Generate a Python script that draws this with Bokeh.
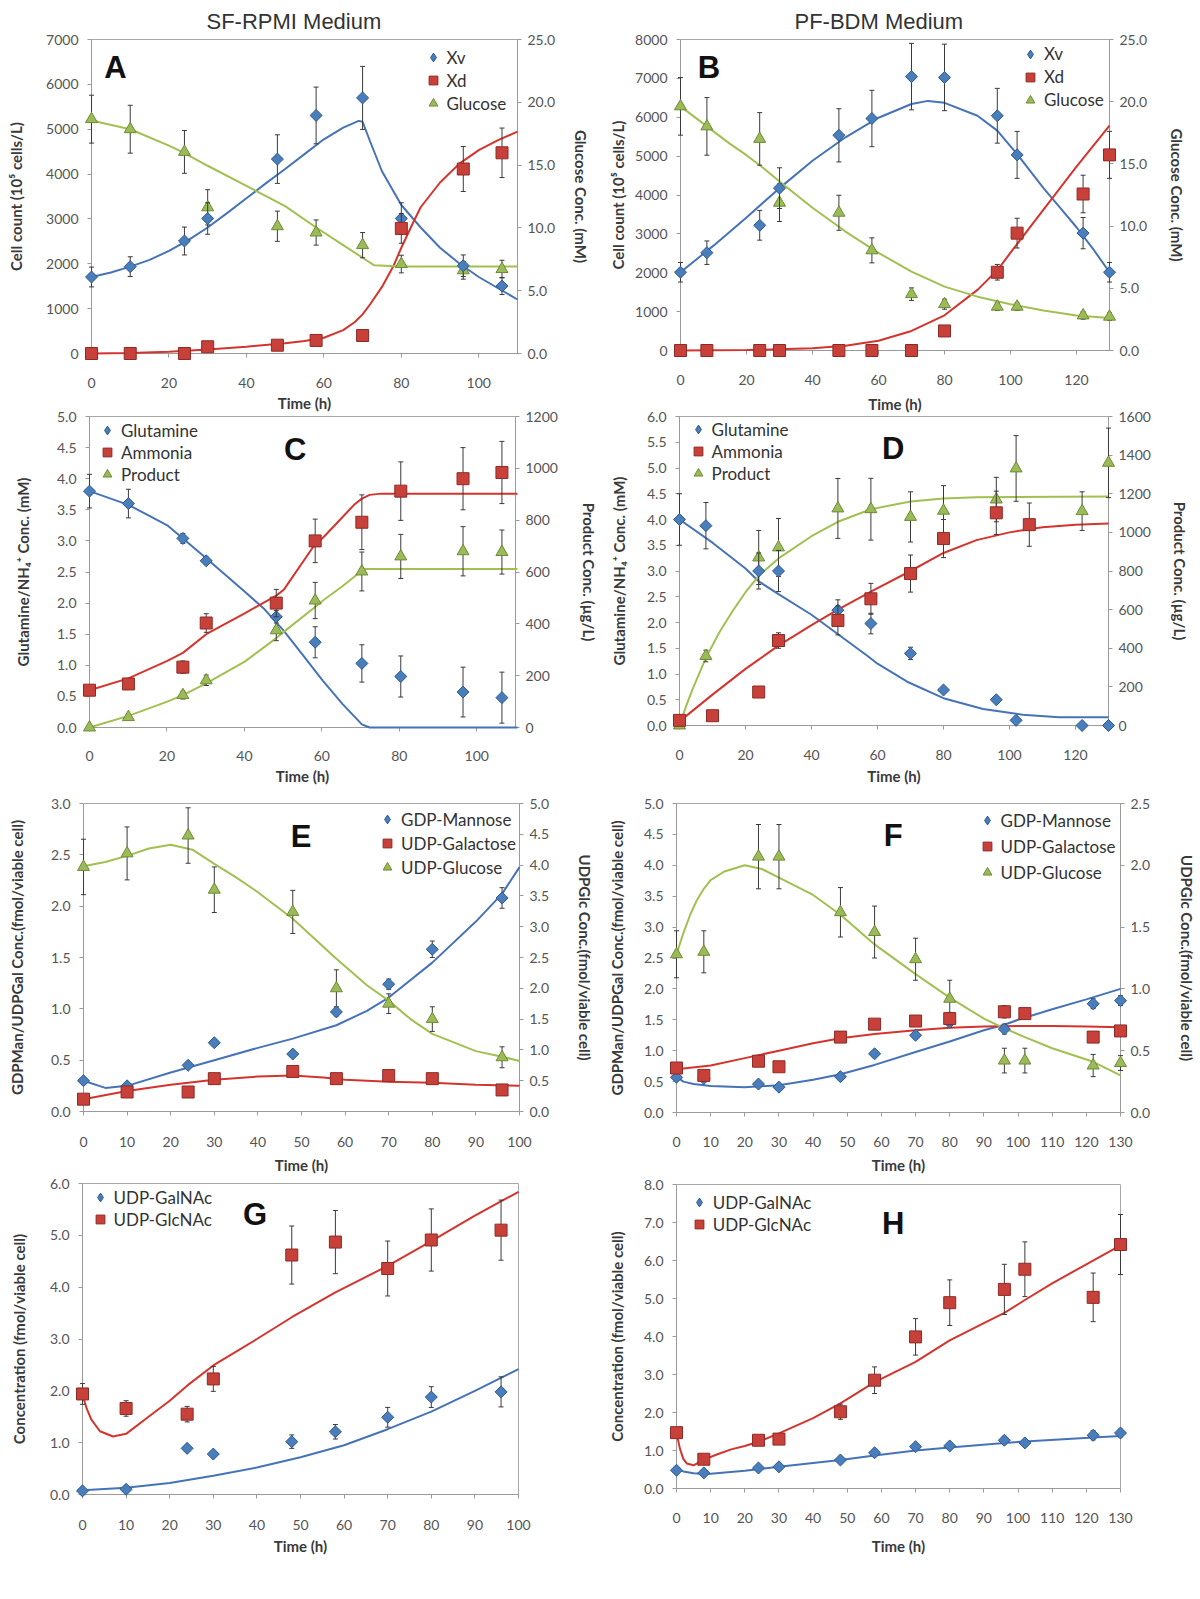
import numpy as np
from bokeh.plotting import figure
from bokeh.models import (Range1d, LinearAxis, FixedTicker, PrintfTickFormatter,
                          Label, Legend, LegendItem)
from bokeh.layouts import column, row
from bokeh.embed import file_html
from bokeh.resources import INLINE

# ======================= DATA =======================
# ---- Panel A : SF-RPMI, cell counts and glucose ----
A_t = [0, 10, 24, 30, 48, 58, 70, 80, 96, 106]
A_xv = [1700, 1930, 2500, 3000, 4320, 5290, 5680, 3000, 1950, 1500]
A_xv_err = [220, 220, 310, 350, 540, 630, 700, 350, 240, 190]
A_xd = [0, 0, 0, 150, 185, 290, 400, 2780, 4100, 4460]
A_xd_err = [0, 0, 0, 0, 0, 0, 0, 330, 500, 550]
A_glc = [18.6, 17.8, 16.0, 11.6, 10.1, 9.6, 8.6, 7.1, 6.6, 6.7]
A_glc_err = [1.9, 1.9, 1.7, 1.4, 1.2, 1.0, 1.0, 0.7, 0.7, 0.7]
A_fit_xv_t = [0, 5, 10, 15, 20, 25, 30, 35, 40, 45, 50, 55, 60, 65, 69, 70, 72, 75, 80, 85, 90, 95, 100, 105, 110]
A_fit_xv = [1700, 1800, 1930, 2080, 2280, 2520, 2800, 3120, 3450, 3780, 4100, 4430, 4760, 5020, 5170, 5150,
            4700, 4050, 3300, 2800, 2350, 2000, 1700, 1450, 1200]
A_fit_xd_t = [0, 10, 20, 30, 40, 50, 55, 60, 65, 68, 70, 72, 75, 78, 80, 83, 85, 90, 95, 100, 105, 110]
A_fit_xd = [0, 10, 40, 90, 150, 230, 280, 350, 520, 700, 870, 1100, 1480, 1950, 2350, 2900, 3250, 3800,
            4220, 4520, 4740, 4930]
A_fit_glc_t = [0, 10, 20, 24, 30, 40, 50, 58, 65, 70, 73, 80, 90, 100, 110]
A_fit_glc = [18.5, 17.8, 16.5, 15.9, 14.9, 13.3, 11.7, 10.0, 8.6, 7.6, 7.0, 6.9, 6.9, 6.9, 6.9]

# ---- Panel B : PF-BDM, cell counts and glucose ----
B_t = [0, 8, 24, 30, 48, 58, 70, 80, 96, 102, 122, 130]
B_xv = [2000, 2500, 3200, 4150, 5500, 5930, 7000, 6980, 6000, 5000, 3000, 2000]
B_xv_err = [250, 300, 380, 520, 680, 720, 850, 850, 700, 600, 400, 250]
B_xd = [0, 0, 0, 0, 0, 0, 0, 500, 2000, 3000, 4000, 5000]
B_xd_err = [0, 0, 0, 0, 0, 0, 0, 80, 200, 380, 480, 600]
B_glc = [19.5, 17.9, 16.9, 11.8, 11.0, 8.0, 4.5, 3.7, 3.5, 3.5, 2.8, 2.7]
B_glc_err = [2.3, 2.3, 2.1, 1.5, 1.4, 1.0, 0.5, 0.4, 0.3, 0.3, 0.3, 0.3]
B_fit_xv_t = [0, 10, 20, 30, 40, 50, 60, 70, 75, 80, 90, 96, 102, 110, 115, 120, 125, 130]
B_fit_xv = [2000, 2680, 3400, 4150, 4850, 5450, 5950, 6300, 6380, 6330, 6000, 5620, 5020, 4150, 3650, 3150, 2600, 2000]
B_fit_xd_t = [0, 20, 40, 50, 60, 70, 80, 90, 96, 100, 110, 120, 130]
B_fit_xd = [0, 10, 60, 120, 250, 500, 900, 1550, 2050, 2500, 3600, 4700, 5750]
B_fit_glc_t = [0, 5, 10, 15, 20, 25, 30, 40, 50, 60, 70, 80, 90, 100, 110, 120, 130]
B_fit_glc = [19.5, 18.5, 17.5, 16.5, 15.6, 14.6, 13.5, 11.4, 9.5, 7.8, 6.3, 5.1, 4.3, 3.7, 3.2, 2.8, 2.6]

# ---- Panel C : SF-RPMI, glutamine / ammonia / product ----
C_t = [0, 10, 24, 30, 48, 58, 70, 80, 96, 106]
C_gln = [3.8, 3.6, 3.04, 2.68, 1.78, 1.37, 1.03, 0.82, 0.57, 0.48]
C_gln_err = [0.27, 0.23, 0.08, 0.06, 0.1, 0.25, 0.3, 0.33, 0.4, 0.41]
C_amm = [0.6, 0.7, 0.97, 1.68, 2.0, 3.0, 3.3, 3.8, 4.0, 4.1]
C_amm_err = [0.03, 0.05, 0.1, 0.15, 0.22, 0.35, 0.44, 0.47, 0.5, 0.5]
C_prod = [0, 40, 125, 182, 375, 490, 602, 660, 680, 677]
C_prod_err = [0, 8, 15, 20, 40, 70, 75, 85, 95, 85]
C_fit_gln_t = [0, 10, 20, 30, 40, 45, 50, 55, 60, 65, 70, 72, 80, 90, 100, 110]
C_fit_gln = [3.8, 3.58, 3.25, 2.72, 2.18, 1.9, 1.55, 1.15, 0.75, 0.38, 0.05, 0.0, 0.0, 0.0, 0.0, 0.0]
C_fit_amm_t = [0, 10, 20, 24, 30, 40, 48, 50, 58, 60, 65, 68, 70, 72, 75, 80, 90, 100, 110]
C_fit_amm = [0.6, 0.79, 1.07, 1.2, 1.5, 1.84, 2.12, 2.22, 2.95, 3.05, 3.38, 3.58, 3.68, 3.74, 3.76, 3.76, 3.76, 3.76, 3.76]
C_fit_prod_t = [0, 10, 20, 24, 30, 40, 48, 50, 58, 60, 65, 70, 71, 80, 90, 100, 110]
C_fit_prod = [0, 45, 100, 125, 170, 255, 345, 370, 465, 490, 545, 605, 612, 612, 612, 612, 612]

# ---- Panel D : PF-BDM, glutamine / ammonia / product ----
D_t = [0, 8, 24, 30, 48, 58, 70, 80, 96, 102, 122, 130]
D_gln = [4.0, 3.88, 3.0, 3.0, 2.24, 1.98, 1.4, 0.69, 0.5, 0.1, 0.0, 0.0]
D_gln_err = [0.5, 0.45, 0.35, 0.4, 0.2, 0.2, 0.12, 0.05, 0.05, 0.03, 0, 0]
D_amm_t = [0, 10, 24, 30, 48, 58, 70, 80, 96, 106]
D_amm = [0.1, 0.19, 0.65, 1.65, 2.04, 2.46, 2.95, 3.63, 4.13, 3.9]
D_amm_err = [0.05, 0.05, 0.05, 0.15, 0.28, 0.3, 0.36, 0.37, 0.42, 0.42]
D_prod = [0, 360, 870, 922, 1124, 1120, 1080, 1112, 1170, 1331, 1110, 1360]
D_prod_err = [0, 30, 140, 150, 155, 160, 130, 130, 115, 170, 100, 180]
D_fit_gln_t = [0, 10, 20, 24, 30, 40, 50, 57, 60, 69, 80, 92, 104, 115, 130]
D_fit_gln = [4.0, 3.55, 3.05, 2.8, 2.55, 2.15, 1.68, 1.35, 1.2, 0.85, 0.53, 0.32, 0.21, 0.16, 0.16]
D_fit_amm_t = [0, 10, 20, 24, 30, 40, 48, 58, 70, 80, 90, 100, 110, 120, 130]
D_fit_amm = [0.08, 0.6, 1.1, 1.28, 1.55, 1.95, 2.25, 2.6, 3.0, 3.35, 3.6, 3.75, 3.85, 3.9, 3.92]
D_fit_prod_t = [0, 2, 4, 8, 12, 16, 20, 24, 30, 40, 48, 58, 70, 80, 90, 130]
D_fit_prod = [0, 100, 190, 350, 480, 590, 690, 775, 865, 980, 1055, 1120, 1160, 1175, 1182, 1186]

# ---- Panel E : SF-RPMI nucleotide sugars ----
E_t = [0, 10, 24, 30, 48, 58, 70, 80, 96]
E_man = [0.3, 0.25, 0.45, 0.67, 0.56, 0.97, 1.24, 1.58, 2.08]
E_man_err = [0.02, 0.02, 0.02, 0.03, 0.03, 0.04, 0.05, 0.08, 0.1]
E_gal = [0.12, 0.19, 0.19, 0.32, 0.39, 0.32, 0.35, 0.32, 0.21]
E_gal_err = [0.02, 0.02, 0.03, 0.03, 0.03, 0.02, 0.02, 0.02, 0.02]
E_glc = [3.97, 4.19, 4.48, 3.6, 3.24, 2.0, 1.75, 1.5, 0.88]
E_glc_err = [0.45, 0.43, 0.45, 0.37, 0.35, 0.3, 0.16, 0.2, 0.17]
E_fit_man_t = [0, 5, 10, 20, 30, 40, 48, 58, 65, 70, 80, 90, 96, 100]
E_fit_man = [0.3, 0.23, 0.25, 0.38, 0.5, 0.62, 0.71, 0.84, 0.98, 1.11, 1.45, 1.85, 2.12, 2.38]
E_fit_gal_t = [0, 10, 20, 30, 40, 48, 55, 60, 70, 80, 90, 100]
E_fit_gal = [0.12, 0.2, 0.26, 0.31, 0.34, 0.35, 0.33, 0.31, 0.29, 0.28, 0.26, 0.25]
E_fit_glc_t = [0, 5, 10, 15, 20, 25, 30, 35, 40, 48, 58, 65, 70, 75, 80, 90, 96, 100]
E_fit_glc = [3.98, 4.05, 4.15, 4.27, 4.33, 4.25, 4.02, 3.8, 3.56, 3.13, 2.48, 2.05, 1.8, 1.5, 1.26, 0.98, 0.89, 0.82]

# ---- Panel F : PF-BDM nucleotide sugars ----
F_t = [0, 8, 24, 30, 48, 58, 70, 80, 96, 102, 122, 130]
F_man = [0.57, 0.55, 0.46, 0.41, 0.58, 0.95, 1.25, 1.46, 1.35, 1.6, 1.76, 1.81]
F_man_err = [0.03, 0.03, 0.03, 0.03, 0.04, 0.05, 0.06, 0.08, 0.08, 0.08, 0.08, 0.08]
F_gal = [0.72, 0.6, 0.83, 0.74, 1.22, 1.43, 1.48, 1.52, 1.63, 1.6, 1.22, 1.32]
F_gal_err = [0.05, 0.05, 0.05, 0.05, 0.05, 0.07, 0.08, 0.1, 0.1, 0.06, 0.05, 0.05]
F_glc = [1.28, 1.3, 2.07, 2.07, 1.62, 1.46, 1.24, 0.92, 0.42, 0.42, 0.38, 0.4]
F_glc_err = [0.19, 0.17, 0.26, 0.26, 0.2, 0.21, 0.17, 0.15, 0.1, 0.1, 0.09, 0.06]
F_fit_man_t = [0, 2, 5, 10, 20, 30, 40, 48, 58, 70, 80, 90, 96, 100, 110, 120, 130]
F_fit_man = [0.58, 0.5, 0.46, 0.43, 0.41, 0.44, 0.53, 0.62, 0.77, 0.98, 1.15, 1.33, 1.42, 1.5, 1.67, 1.83, 2.0]
F_fit_gal_t = [0, 10, 20, 30, 40, 48, 58, 70, 80, 90, 100, 110, 120, 130]
F_fit_gal = [0.7, 0.76, 0.88, 1.0, 1.12, 1.2, 1.27, 1.33, 1.37, 1.39, 1.4, 1.4, 1.39, 1.38]
F_fit_glc_t = [0, 2, 4, 6, 8, 10, 14, 20, 25, 30, 40, 48, 58, 70, 80, 90, 96, 102, 110, 122, 130]
F_fit_glc = [1.28, 1.45, 1.6, 1.72, 1.81, 1.88, 1.95, 2.0, 1.97, 1.9, 1.76, 1.6, 1.36, 1.12, 0.93, 0.76,
             0.68, 0.61, 0.52, 0.41, 0.3]

# ---- Panel G : SF-RPMI UDP-GalNAc / UDP-GlcNAc ----
G_t = [0, 10, 24, 30, 48, 58, 70, 80, 96]
G_galnac = [0.07, 0.1, 0.89, 0.78, 1.02, 1.21, 1.49, 1.88, 1.98]
G_galnac_err = [0.02, 0.02, 0.05, 0.04, 0.13, 0.14, 0.19, 0.2, 0.29]
G_glcnac = [1.94, 1.66, 1.55, 2.23, 4.62, 4.87, 4.36, 4.91, 5.1]
G_glcnac_err = [0.2, 0.15, 0.15, 0.24, 0.56, 0.61, 0.53, 0.6, 0.58]
G_fit_galnac_t = [0, 10, 20, 30, 40, 50, 60, 70, 80, 90, 100]
G_fit_galnac = [0.08, 0.13, 0.22, 0.36, 0.52, 0.72, 0.95, 1.26, 1.6, 2.0, 2.42]
G_fit_glcnac_t = [0, 1, 2, 4, 7, 10, 15, 20, 24, 30, 40, 48, 58, 70, 80, 90, 100]
G_fit_glcnac = [1.92, 1.65, 1.45, 1.22, 1.12, 1.17, 1.49, 1.81, 2.1, 2.49, 3.0, 3.42, 3.9, 4.41, 4.89, 5.38, 5.84]

# ---- Panel H : PF-BDM UDP-GalNAc / UDP-GlcNAc ----
H_t = [0, 8, 24, 30, 48, 58, 70, 80, 96, 102, 122, 130]
H_galnac = [0.48, 0.41, 0.54, 0.57, 0.75, 0.94, 1.1, 1.12, 1.27, 1.2, 1.4, 1.46]
H_galnac_err = [0.04, 0.04, 0.05, 0.05, 0.06, 0.07, 0.08, 0.08, 0.1, 0.08, 0.12, 0.1]
H_glcnac = [1.47, 0.77, 1.27, 1.3, 2.02, 2.85, 3.99, 4.89, 5.24, 5.77, 5.03, 6.42]
H_glcnac_err = [0.1, 0.1, 0.08, 0.08, 0.2, 0.35, 0.48, 0.6, 0.66, 0.72, 0.64, 0.79]
H_fit_galnac_t = [0, 2, 5, 8, 10, 20, 30, 48, 58, 70, 80, 96, 102, 122, 130]
H_fit_galnac = [0.5, 0.45, 0.4, 0.38, 0.39, 0.47, 0.57, 0.75, 0.87, 1.0, 1.08, 1.2, 1.24, 1.34, 1.38]
H_fit_glcnac_t = [0, 1, 2, 3, 5, 8, 12, 16, 20, 24, 30, 40, 48, 58, 70, 80, 90, 96, 102, 110, 120, 130]
H_fit_glcnac = [1.47, 1.05, 0.78, 0.66, 0.61, 0.76, 0.9, 1.03, 1.12, 1.23, 1.45, 1.85, 2.24, 2.8, 3.33, 3.9,
                4.35, 4.62, 4.96, 5.4, 5.9, 6.4]

# ---- axis ticks / labels ----
TICKS_X110 = [0, 20, 40, 60, 80, 100]
TICKS_X130 = [0, 20, 40, 60, 80, 100, 120]
TICKS_X100_10 = [0, 10, 20, 30, 40, 50, 60, 70, 80, 90, 100]
TICKS_X130_10 = [0, 10, 20, 30, 40, 50, 60, 70, 80, 90, 100, 110, 120, 130]
TICKS_A_L = [0, 1000, 2000, 3000, 4000, 5000, 6000, 7000]
TICKS_B_L = [0, 1000, 2000, 3000, 4000, 5000, 6000, 7000, 8000]
TICKS_GLC = [0, 5, 10, 15, 20, 25]
TICKS_C_L = [0, 0.5, 1.0, 1.5, 2.0, 2.5, 3.0, 3.5, 4.0, 4.5, 5.0]
TICKS_C_R = [0, 200, 400, 600, 800, 1000, 1200]
TICKS_D_L = [0, 0.5, 1.0, 1.5, 2.0, 2.5, 3.0, 3.5, 4.0, 4.5, 5.0, 5.5, 6.0]
TICKS_D_R = [0, 200, 400, 600, 800, 1000, 1200, 1400, 1600]
TICKS_E_L = [0, 0.5, 1.0, 1.5, 2.0, 2.5, 3.0]
TICKS_E_R = [0, 0.5, 1.0, 1.5, 2.0, 2.5, 3.0, 3.5, 4.0, 4.5, 5.0]
TICKS_F_L = [0, 0.5, 1.0, 1.5, 2.0, 2.5, 3.0, 3.5, 4.0, 4.5, 5.0]
TICKS_F_R = [0, 0.5, 1.0, 1.5, 2.0, 2.5]
TICKS_G = [0, 1, 2, 3, 4, 5, 6]
TICKS_H = [0, 1, 2, 3, 4, 5, 6, 7, 8]

LBL_TIME = "Time (h)"
LBL_CELL = "Cell count (10⁵ cells/L)"
LBL_GLCM = "Glucose Conc. (mM)"
LBL_GLN = "Glutamine/NH₄⁺ Conc. (mM)"
LBL_PROD = "Product Conc. (µg/L)"
LBL_MANGAL = "GDPMan/UDPGal Conc.(fmol/viable cell)"
LBL_UDPGLC = "UDPGlc Conc.(fmol/viable cell)"
LBL_CONC = "Concentration (fmol/viable cell)"

# ======================= STYLE / LAYOUT =======================
FONT = "Lato"
AXC = "#9A9A9A"
ERRC = "#3A3A3A"
BLUE = ("#4A7EBB", "#2D5890", "#4673B8")
RED = ("#C8403A", "#8E2A25", "#D4342E")
GREEN = ("#9BBB59", "#6E8A36", "#A0C050")
MK = {"d": dict(marker="square", size=8.5, angle=np.pi / 4),
      "s": dict(marker="square", size=12),
      "t": dict(marker="triangle", size=12)}
LEGMK = {"d": "diamond", "s": "square", "t": "triangle"}
PAD = 8          # the marks layer extends this far beyond the plot box, so edge markers are whole
OVL = 20         # vertical overlap of neighbouring rows (their borders are transparent)
XS_FIX = 4       # extra standoff for x tick labels


def style_axis(ax, ticks, fmt, label, lab_so, title_so):
    ax.ticker = FixedTicker(ticks=ticks)
    ax.formatter = PrintfTickFormatter(format=fmt)
    ax.axis_label = label
    ax.axis_label_text_font = FONT
    ax.axis_label_text_font_style = "bold"
    ax.axis_label_text_font_size = "15px"
    ax.axis_label_text_color = "#3A3A3A"
    ax.axis_label_standoff = int(round(title_so))
    ax.major_label_text_font = FONT
    ax.major_label_text_font_size = "14px"
    ax.major_label_text_color = "#555555"
    ax.major_label_standoff = int(round(lab_so))
    ax.axis_line_color = AXC
    ax.major_tick_line_color = AXC
    ax.major_tick_out = 4
    ax.major_tick_in = 0
    ax.minor_tick_line_color = None


def make_panel(canvas, frame, xmax, xticks, ymax, yticks, yfmt, ylabel, yl_so,
               rmax=None, rticks=None, rfmt=None, rlabel=None, yr_so=None, xs1=16, xs2=3):
    """Returns (axes figure, marks figure). The marks figure is laid exactly over the
    axes figure, with the same data->pixel mapping but a slightly larger frame."""
    x0, y0, W, H = canvas
    L, R, T, B = frame
    bl = int(round(L - x0)); br = int(round(x0 + W - R))
    bt = int(round(T - y0)); bb = int(round(y0 + H - B))
    # axes layer
    pa = figure(width=W, height=H, x_range=Range1d(0, xmax), y_range=Range1d(0, ymax),
                output_backend="svg", toolbar_location=None, tools="", frame_align=False,
                min_border_left=bl, min_border_right=br, min_border_top=bt, min_border_bottom=bb)
    pa.border_fill_alpha = 0.0
    pa.background_fill_color = "white"
    pa.xgrid.visible = False
    pa.ygrid.visible = False
    pa.outline_line_color = "#A8A8A8"
    style_axis(pa.xaxis[0], xticks, "%d", LBL_TIME, xs1 + XS_FIX, xs2)
    style_axis(pa.yaxis[0], yticks, yfmt, ylabel, 9, yl_so)
    if rmax is not None:
        pa.extra_y_ranges = {"r": Range1d(0, rmax)}
        ax = LinearAxis(y_range_name="r")
        style_axis(ax, rticks, rfmt, rlabel, 6, yr_so)
        pa.add_layout(ax, "right")
    # marks layer: frame padded by PAD px on every side, same scale
    fw = W - bl - br
    fh = H - bt - bb
    ppx = fw / xmax
    ppy = fh / ymax
    xs, xe = -PAD / ppx, xmax + PAD / ppx
    ys, ye = -PAD / ppy, ymax + PAD / ppy
    pg = figure(width=W, height=H, x_range=Range1d(xs, xe), y_range=Range1d(ys, ye),
                output_backend="svg", toolbar_location=None, tools="", frame_align=False,
                x_axis_type=None, y_axis_type=None,
                min_border_left=bl - PAD, min_border_right=br - PAD,
                min_border_top=bt - PAD, min_border_bottom=bb - PAD,
                margin=(0, 0, 0, -W))
    pg.border_fill_alpha = 0.0
    pg.background_fill_alpha = 0.0
    pg.outline_line_color = None
    if rmax is not None:
        pg.extra_y_ranges = {"r": Range1d(ys * rmax / ymax, ye * rmax / ymax)}
    pg._geo = (x0 + bl - PAD, y0 + H - bb + PAD)   # page coords of marks-frame left / bottom
    return pa, pg


def curve(p, t, y, col, rn="default"):
    p.line(t, y, line_color=col[2], line_width=2, y_range_name=rn)


def series(p, t, y, err, mk, col, rn="default"):
    tt = [a for a, e in zip(t, err) if e > 0]
    lo = [b - e for b, e in zip(y, err) if e > 0]
    hi = [b + e for b, e in zip(y, err) if e > 0]
    if tt:
        p.segment(tt, lo, tt, hi, line_color=ERRC, line_width=1, y_range_name=rn)
        p.scatter(tt + tt, lo + hi, marker="dash", size=5, line_color=ERRC, line_width=1, y_range_name=rn)
    p.scatter(t, y, fill_color=col[0], line_color=col[1], line_width=1, y_range_name=rn, **MK[mk])
    # legend swatch (same data, not drawn in the plot itself)
    return p.scatter(t, y, marker=LEGMK[mk], fill_color=col[0], line_color=col[1], line_width=1,
                     y_range_name=rn, visible=False)


def add_legend(p, items, left, top, spacing):
    fl, fb = p._geo
    n = len(items)
    bottom = top + n * 22 + (n - 1) * spacing
    leg = Legend(items=[LegendItem(label=l, renderers=[r]) for l, r in items],
                 location=(left - fl, fb - bottom),
                 orientation="vertical", background_fill_alpha=0, border_line_color=None,
                 padding=0, margin=0, spacing=spacing, glyph_width=22, glyph_height=22,
                 label_height=22, label_standoff=3, label_text_font=FONT,
                 label_text_font_size="17px", label_text_color="#333333",
                 inactive_fill_alpha=0.0)
    p.add_layout(leg)


def add_letter(p, cx, cy, text):
    fl, fb = p._geo
    p.add_layout(Label(x=cx - fl, y=fb - cy, x_units="screen", y_units="screen", text=text,
                       text_align="center", text_baseline="middle", text_font="Liberation Sans",
                       text_font_style="bold", text_font_size="31px", text_color="#111111"))


def add_header(p, text, offset):
    p.title.text = text
    p.title.align = "left"
    p.title.text_font = "Liberation Sans"
    p.title.text_font_style = "normal"
    p.title.text_font_size = "22px"
    p.title.text_color = "#333333"
    p.title.offset = offset
    p.title.standoff = 12


# canvases (x0, y0, width, height) in page pixels; rows overlap by OVL
CV = {
    "A": (0, 0, 600, 420), "B": (600, 0, 600, 420),
    "C": (0, 400, 600, 400), "D": (600, 400, 600, 400),
    "E": (0, 780, 600, 405), "F": (600, 780, 600, 405),
    "G": (0, 1165, 600, 433), "H": (600, 1165, 600, 433),
}

# ---------------- Panel A ----------------
aA, pA = make_panel(CV["A"], (90.7, 517.4, 38, 353), 110, TICKS_X110, 7000, TICKS_A_L, "%d", LBL_CELL, 18,
                    25, TICKS_GLC, "%.1f", LBL_GLCM, 14, xs1=16, xs2=3)
curve(pA, A_fit_xv_t, A_fit_xv, BLUE)
curve(pA, A_fit_xd_t, A_fit_xd, RED)
curve(pA, A_fit_glc_t, A_fit_glc, GREEN, "r")
rg = series(pA, A_t, A_glc, A_glc_err, "t", GREEN, "r")
rv = series(pA, A_t, A_xv, A_xv_err, "d", BLUE)
rd = series(pA, A_t, A_xd, A_xd_err, "s", RED)
add_legend(pA, [("Xv", rv), ("Xd", rd), ("Glucose", rg)], 421.5, 46, 1)
add_header(aA, "SF-RPMI Medium", 115)
add_letter(pA, 115, 67, "A")

# ---------------- Panel B ----------------
aB, pB = make_panel(CV["B"], (680.4, 1109, 37, 350), 130, TICKS_X130, 8000, TICKS_B_L, "%d", LBL_CELL, 5,
                    25, TICKS_GLC, "%.1f", LBL_GLCM, 18, xs1=15.6, xs2=6.6)
curve(pB, B_fit_xv_t, B_fit_xv, BLUE)
curve(pB, B_fit_xd_t, B_fit_xd, RED)
curve(pB, B_fit_glc_t, B_fit_glc, GREEN, "r")
rg = series(pB, B_t, B_glc, B_glc_err, "t", GREEN, "r")
rv = series(pB, B_t, B_xv, B_xv_err, "d", BLUE)
rd = series(pB, B_t, B_xd, B_xd_err, "s", RED)
add_legend(pB, [("Xv", rv), ("Xd", rd), ("Glucose", rg)], 1019, 42.5, 1)
add_header(aB, "PF-BDM Medium", 114)
add_letter(pB, 708.5, 67, "B")

# ---------------- Panel C ----------------
aC, pC = make_panel(CV["C"], (89.2, 517.4, 415.7, 727.3), 110, TICKS_X110, 5, TICKS_C_L, "%.1f", LBL_GLN, 22,
                    1200, TICKS_C_R, "%d", LBL_PROD, 19, xs1=15.3, xs2=2.6)
curve(pC, C_fit_gln_t, C_fit_gln, BLUE)
curve(pC, C_fit_amm_t, C_fit_amm, RED)
curve(pC, C_fit_prod_t, C_fit_prod, GREEN, "r")
rg = series(pC, C_t, C_prod, C_prod_err, "t", GREEN, "r")
rv = series(pC, C_t, C_gln, C_gln_err, "d", BLUE)
rd = series(pC, C_t, C_amm, C_amm_err, "s", RED)
add_legend(pC, [("Glutamine", rv), ("Ammonia", rd), ("Product", rg)], 96, 419, 0)
add_letter(pC, 294.6, 448.5, "C")

# ---------------- Panel D ----------------
aD, pD = make_panel(CV["D"], (679.2, 1108.2, 415.7, 725), 130, TICKS_X130, 6, TICKS_D_L, "%.1f", LBL_GLN, 16,
                    1600, TICKS_D_R, "%d", LBL_PROD, 17, xs1=15.9, xs2=4.3)
curve(pD, D_fit_gln_t, D_fit_gln, BLUE)
curve(pD, D_fit_amm_t, D_fit_amm, RED)
curve(pD, D_fit_prod_t, D_fit_prod, GREEN, "r")
rg = series(pD, D_t, D_prod, D_prod_err, "t", GREEN, "r")
rv = series(pD, D_t, D_gln, D_gln_err, "d", BLUE)
rd = series(pD, D_amm_t, D_amm, D_amm_err, "s", RED)
add_legend(pD, [("Glutamine", rv), ("Ammonia", rd), ("Product", rg)], 686.6, 418, 0)
add_letter(pD, 892.6, 447.5, "D")

# ---------------- Panel E ----------------
aE, pE = make_panel(CV["E"], (83.4, 518.6, 803.3, 1110.7), 100, TICKS_X100_10, 3, TICKS_E_L, "%.1f", LBL_MANGAL, 22,
                    5, TICKS_E_R, "%.1f", LBL_UDPGLC, 24, xs1=16.9, xs2=5.6)
curve(pE, E_fit_man_t, E_fit_man, BLUE)
curve(pE, E_fit_gal_t, E_fit_gal, RED)
curve(pE, E_fit_glc_t, E_fit_glc, GREEN, "r")
rg = series(pE, E_t, E_glc, E_glc_err, "t", GREEN, "r")
rv = series(pE, E_t, E_man, E_man_err, "d", BLUE)
rd = series(pE, E_t, E_gal, E_gal_err, "s", RED)
add_legend(pE, [("GDP-Mannose", rv), ("UDP-Galactose", rd), ("UDP-Glucose", rg)], 376, 808, 2)
add_letter(pE, 300.5, 836, "E")

# ---------------- Panel F ----------------
aF, pF = make_panel(CV["F"], (676.5, 1119.7, 803.3, 1111.7), 130, TICKS_X130_10, 5, TICKS_F_L, "%.1f", LBL_MANGAL, 15,
                    2.5, TICKS_F_R, "%.1f", LBL_UDPGLC, 25, xs1=15.9, xs2=5.6)
curve(pF, F_fit_man_t, F_fit_man, BLUE)
curve(pF, F_fit_gal_t, F_fit_gal, RED)
curve(pF, F_fit_glc_t, F_fit_glc, GREEN, "r")
rg = series(pF, F_t, F_glc, F_glc_err, "t", GREEN, "r")
rv = series(pF, F_t, F_man, F_man_err, "d", BLUE)
rd = series(pF, F_t, F_gal, F_gal_err, "s", RED)
add_legend(pF, [("GDP-Mannose", rv), ("UDP-Galactose", rd), ("UDP-Glucose", rg)], 975.5, 809, 4)
add_letter(pF, 892.6, 835, "F")

# ---------------- Panel G ----------------
aG, pG = make_panel(CV["G"], (82.3, 517.8, 1182.7, 1494), 100, TICKS_X100_10, 6, TICKS_G, "%.1f", LBL_CONC, 19,
                    xs1=16.6, xs2=3.6)
curve(pG, G_fit_galnac_t, G_fit_galnac, BLUE)
curve(pG, G_fit_glcnac_t, G_fit_glcnac, RED)
rv = series(pG, G_t, G_galnac, G_galnac_err, "d", BLUE)
rd = series(pG, G_t, G_glcnac, G_glcnac_err, "s", RED)
add_legend(pG, [("UDP-GalNAc", rv), ("UDP-GlcNAc", rd)], 88.5, 1186, 0)
add_letter(pG, 254.6, 1214, "G")

# ---------------- Panel H ----------------
aH, pH = make_panel(CV["H"], (676.5, 1120.5, 1184.3, 1488.3), 130, TICKS_X130_10, 8, TICKS_H, "%.1f", LBL_CONC, 15,
                    xs1=16.3, xs2=10.6)
curve(pH, H_fit_galnac_t, H_fit_galnac, BLUE)
curve(pH, H_fit_glcnac_t, H_fit_glcnac, RED)
rv = series(pH, H_t, H_galnac, H_galnac_err, "d", BLUE)
rd = series(pH, H_t, H_glcnac, H_glcnac_err, "s", RED)
add_legend(pH, [("UDP-GalNAc", rv), ("UDP-GlcNAc", rd)], 687.7, 1191, 0)
add_letter(pH, 892.6, 1222.5, "H")

layout = column(row(aA, pA, aB, pB),
                row(aC, pC, aD, pD, margin=(-OVL, 0, 0, 0)),
                row(aE, pE, aF, pF, margin=(-OVL, 0, 0, 0)),
                row(aG, pG, aH, pH, margin=(-OVL, 0, 0, 0)))
open("out.html", "w").write(file_html(layout, INLINE))
